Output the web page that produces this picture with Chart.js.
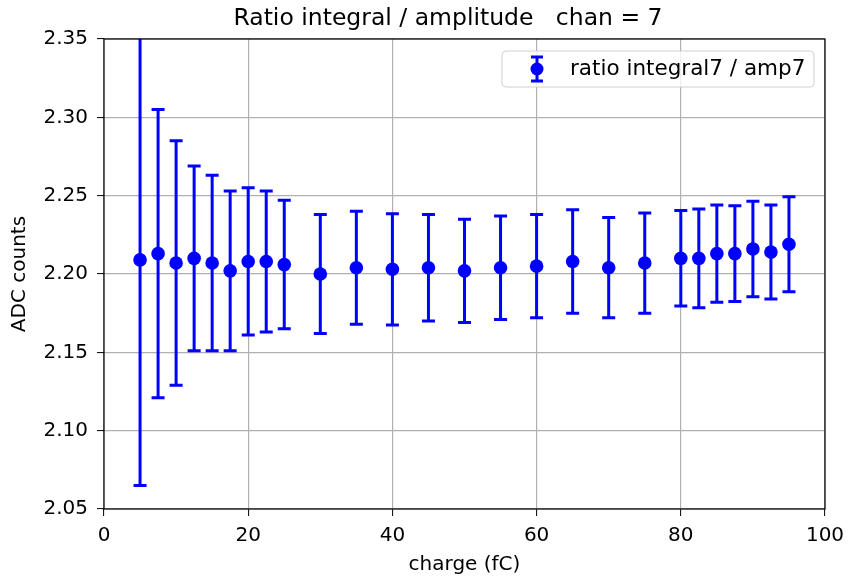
<!DOCTYPE html>
<html>
<head>
<meta charset="utf-8">
<script src="https://cdn.jsdelivr.net/npm/chart.js@4/dist/chart.umd.min.js"></script>
<style>
  html, body { margin: 0; padding: 0; background: #fff; }
  #wrap { width: 848px; height: 578px; }
</style>
</head>
<body>
<div id="wrap"><canvas id="chart" width="848" height="578"></canvas></div>
<script>
// charge points (fC) and measured ratio integral/amplitude with errors
const chargeFC = [5, 7.5, 10, 12.5, 15, 17.5, 20, 22.5, 25, 30, 35, 40, 45, 50, 55, 60, 65, 70, 75, 80, 82.5, 85, 87.5, 90, 92.5, 95];
const ratioValues = [2.209, 2.213, 2.207, 2.210, 2.207, 2.202, 2.208, 2.208, 2.206, 2.200, 2.204, 2.203, 2.204, 2.202, 2.204, 2.205, 2.208, 2.204, 2.207, 2.210, 2.210, 2.213, 2.213, 2.216, 2.214, 2.219];
const ratioErrors = [0.144, 0.092, 0.078, 0.059, 0.056, 0.051, 0.047, 0.045, 0.041, 0.038, 0.036, 0.0355, 0.034, 0.033, 0.033, 0.033, 0.033, 0.032, 0.032, 0.0305, 0.0315, 0.031, 0.0305, 0.0305, 0.030, 0.0303];
const xTicks = [0, 20, 40, 60, 80, 100];
const yTicks = [2.05, 2.10, 2.15, 2.20, 2.25, 2.30, 2.35];
const seriesLabel = "ratio integral7 / amp7";
const titleText = "Ratio integral / amplitude   chan = 7";

const FONT = "DejaVu Sans";
const BLUE = "#0000ff";

// error bars under the points, frame, title and legend on top
const errorBars = {
  id: "errorBars",
  beforeDatasetsDraw(chart) {
    const {ctx, chartArea, scales: {x, y}} = chart;
    ctx.save();
    ctx.beginPath();
    ctx.rect(chartArea.left, chartArea.top, chartArea.right - chartArea.left, chartArea.bottom - chartArea.top);
    ctx.clip();
    ctx.strokeStyle = BLUE;
    ctx.lineWidth = 3;
    for (let i = 0; i < chargeFC.length; i++) {
      const px = x.getPixelForValue(chargeFC[i]);
      const top = y.getPixelForValue(ratioValues[i] + ratioErrors[i]);
      const bot = y.getPixelForValue(ratioValues[i] - ratioErrors[i]);
      ctx.beginPath();
      ctx.moveTo(px, top); ctx.lineTo(px, bot);
      ctx.moveTo(px - 6.5, top); ctx.lineTo(px + 6.5, top);
      ctx.moveTo(px - 6.5, bot); ctx.lineTo(px + 6.5, bot);
      ctx.stroke();
    }
    ctx.restore();
  },
  afterDraw(chart) {
    const {ctx, chartArea} = chart;
    ctx.save();
    // frame
    ctx.strokeStyle = "#000";
    ctx.lineWidth = 1.2;
    ctx.strokeRect(chartArea.left, chartArea.top, chartArea.right - chartArea.left, chartArea.bottom - chartArea.top);

    // title
    ctx.fillStyle = "#000";
    ctx.font = "23.5px '" + FONT + "'";
    ctx.textAlign = "center";
    ctx.textBaseline = "middle";
    ctx.fillText(titleText, 448, 19);

    // legend box
    const bx = 502, by = 51, bw = 312, bh = 36;
    ctx.beginPath();
    ctx.roundRect(bx, by, bw, bh, 4);
    ctx.fillStyle = "rgba(255,255,255,0.8)";
    ctx.fill();
    ctx.strokeStyle = "rgba(204,204,204,0.9)";
    ctx.lineWidth = 1;
    ctx.stroke();

    const mx = 537, my = 69;
    ctx.strokeStyle = BLUE;
    ctx.lineWidth = 3;
    ctx.beginPath();
    ctx.moveTo(mx, my - 12); ctx.lineTo(mx, my + 12);
    ctx.moveTo(mx - 6, my - 12); ctx.lineTo(mx + 6, my - 12);
    ctx.moveTo(mx - 6, my + 12); ctx.lineTo(mx + 6, my + 12);
    ctx.stroke();
    ctx.fillStyle = BLUE;
    ctx.beginPath();
    ctx.arc(mx, my, 6.5, 0, Math.PI * 2);
    ctx.fill();

    ctx.fillStyle = "#000";
    ctx.font = "21.5px '" + FONT + "'";
    ctx.textBaseline = "middle";
    ctx.textAlign = "left";
    ctx.fillText(seriesLabel, 570, my);
    ctx.restore();
  }
};

const ctx = document.getElementById("chart").getContext("2d");

new Chart(ctx, {
  type: "scatter",
  data: {
    datasets: [{
      label: seriesLabel,
      data: chargeFC.map((c, i) => ({x: c, y: ratioValues[i]})),
      backgroundColor: BLUE,
      borderColor: BLUE,
      borderWidth: 0,
      pointRadius: 6.8,
      pointHoverRadius: 6.8
    }]
  },
  options: {
    responsive: false,
    animation: false,
    layout: { padding: { left: 0, right: 23, top: 39, bottom: 0 } },
    plugins: {
      legend: { display: false },
      tooltip: { enabled: false },
      title: { display: false }
    },
    scales: {
      x: {
        type: "linear",
        min: 0, max: 100,
        afterFit(scale) {
          scale.height = 69;
          scale.paddingLeft = 0;
          scale.paddingRight = 0;
        },
        afterBuildTicks(scale) { scale.ticks = xTicks.map(v => ({value: v})); },
        ticks: {
          color: "#000",
          font: { family: FONT, size: 20 },
          padding: 8,
          maxRotation: 0,
          callback: v => String(v)
        },
        grid: { color: "#b0b0b0", lineWidth: 1.2, tickColor: "#000", tickLength: 7, tickWidth: 1 },
        border: { display: false },
        title: {
          display: true, text: "charge (fC)", color: "#000",
          font: { family: FONT, size: 20 }, padding: { top: 0, bottom: 1 }
        }
      },
      y: {
        type: "linear",
        min: 2.05, max: 2.35,
        afterFit(scale) {
          scale.width = 104;
          scale.paddingTop = 0;
          scale.paddingBottom = 0;
        },
        afterBuildTicks(scale) { scale.ticks = yTicks.map(v => ({value: v})); },
        ticks: {
          color: "#000",
          font: { family: FONT, size: 20 },
          padding: 9,
          callback: v => Number(v).toFixed(2)
        },
        grid: { color: "#b0b0b0", lineWidth: 1.2, tickColor: "#000", tickLength: 7, tickWidth: 1 },
        border: { display: false },
        title: {
          display: true, text: "ADC counts", color: "#000",
          font: { family: FONT, size: 20 }, padding: { top: 8, bottom: 0 }
        }
      }
    }
  },
  plugins: [errorBars]
});
</script>
</body>
</html>
